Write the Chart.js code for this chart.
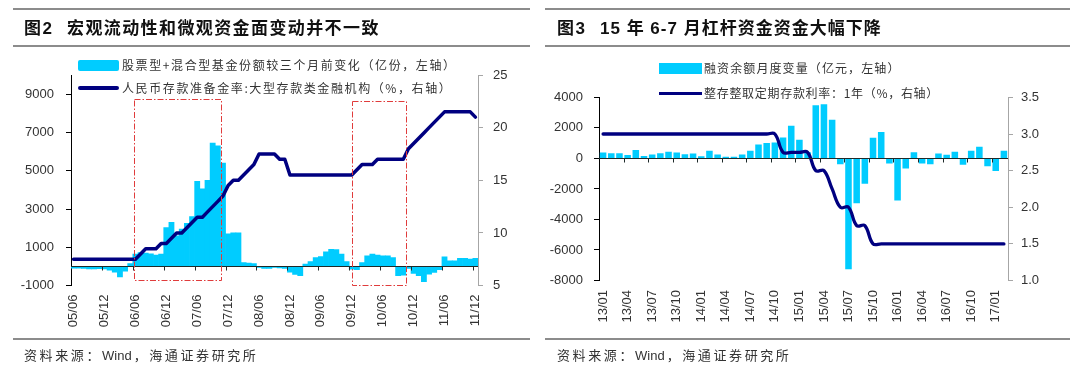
<!DOCTYPE html>
<html lang="zh-CN">
<head>
<meta charset="UTF-8">
<script src="https://cdn.jsdelivr.net/npm/chart.js"></script>
<title>图2 图3</title>
<style>
  body { margin: 0; background: #fff; }
  .page { position: relative; width: 1080px; height: 371px; overflow: hidden; color: #333;
          font-family: "Liberation Sans", "Noto Sans CJK SC", sans-serif; }
  canvas { position: absolute; top: 0; }
  .rule { position: absolute; height: 2px; background: #8c8c8c; }
  .title { position: absolute; top: 19px; line-height: 20px; font-size: 17px; font-weight: 700;
           color: #111; letter-spacing: 1.4px; white-space: nowrap; }
  .legend { position: absolute; line-height: 16px; font-size: 12px; white-space: nowrap;
            font-family: "Noto Sans CJK SC", sans-serif; }
  .swatch { position: absolute; }
  .source { position: absolute; top: 347px; line-height: 18px; font-size: 13px; letter-spacing: 2.6px;
            white-space: nowrap; }
  .source span { letter-spacing: 0; margin-right: 2px; }
</style>
</head>
<body>
<div class="page">
  <canvas id="fundChart" width="540" height="371" style="left:0"></canvas>
  <canvas id="marginChart" width="540" height="371" style="left:540px"></canvas>

  <!-- left panel frame -->
  <div class="rule" style="left:13px; width:517px; top:8px"></div>
  <div class="rule" style="left:13px; width:517px; top:45px"></div>
  <div class="rule" style="left:13px; width:517px; top:338px; height:1.5px"></div>
  <div class="title" style="left:24px">图2</div>
  <div class="title" style="left:67px">宏观流动性和微观资金面变动并不一致</div>
  <div class="swatch" style="left:78px; top:60px; width:41px; height:11px; background:#00ccff; border-radius:2px"></div>
  <div class="legend" style="left:122px; top:57px; letter-spacing:1.6px">股票型+混合型基金份额较三个月前变化（亿份，左轴）</div>
  <div class="swatch" style="left:78px; top:85.5px; width:41px; height:4px; background:#000080; border-radius:2px"></div>
  <div class="legend" style="left:122px; top:79.5px; letter-spacing:1.6px">人民币存款准备金率:大型存款类金融机构（%，右轴）</div>
  <div class="source" style="left:24px">资料来源：<span>Wind</span>，海通证券研究所</div>

  <!-- right panel frame -->
  <div class="rule" style="left:545px; width:525px; top:8px"></div>
  <div class="rule" style="left:545px; width:525px; top:45px"></div>
  <div class="rule" style="left:545px; width:525px; top:338px; height:1.5px"></div>
  <div class="title" style="left:557px">图3</div>
  <div class="title" style="left:600px; letter-spacing:1px">15 年 6-7 月杠杆资金资金大幅下降</div>
  <div class="swatch" style="left:659px; top:63px; width:43px; height:11px; background:#00ccff"></div>
  <div class="legend" style="left:704px; top:60px; letter-spacing:1.1px">融资余额月度变量（亿元，左轴）</div>
  <div class="swatch" style="left:659px; top:91.5px; width:43px; height:3px; background:#000080"></div>
  <div class="legend" style="left:704px; top:85px; letter-spacing:0.7px">整存整取定期存款利率：1年（%，右轴）</div>
  <div class="source" style="left:557px">资料来源：<span>Wind</span>，海通证券研究所</div>
</div>

<script>
// ---- 图2: monthly, 2005-06 .. 2011-12 ----
const fundMonths = [
  '05/06','05/07','05/08','05/09','05/10','05/11','05/12',
  '06/01','06/02','06/03','06/04','06/05','06/06','06/07','06/08','06/09','06/10','06/11','06/12',
  '07/01','07/02','07/03','07/04','07/05','07/06','07/07','07/08','07/09','07/10','07/11','07/12',
  '08/01','08/02','08/03','08/04','08/05','08/06','08/07','08/08','08/09','08/10','08/11','08/12',
  '09/01','09/02','09/03','09/04','09/05','09/06','09/07','09/08','09/09','09/10','09/11','09/12',
  '10/01','10/02','10/03','10/04','10/05','10/06','10/07','10/08','10/09','10/10','10/11','10/12',
  '11/01','11/02','11/03','11/04','11/05','11/06','11/07','11/08','11/09','11/10','11/11','11/12'
];
// 股票型+混合型基金份额较三个月前变化（亿份）
const fundShareChange = [
  -90, -90, -100, -130, -130, -110, -130, -200, -300, -550, -250, 150,
  640, 730, 700, 660, 600, 640, 2030, 2300, 1600, 1950, 2250, 2600,
  4450, 4050, 4500, 6450, 6300, 5400, 1700, 1750, 1750, 200, 170, 150,
  -50, -100, -100, -50, -80, -100, -300, -420, -480, 120, 260, 470,
  520, 760, 900, 880, 640, 260, -140, -170, 200, 550, 650, 600,
  550, 550, 470, -480, -450, -100, -360, -480, -800, -400, -310, -170,
  500, 290, 290, 430, 420, 380, 420
];
// 人民币存款准备金率: 大型存款类金融机构（%）
const reserveRatio = [
  7.5, 7.5, 7.5, 7.5, 7.5, 7.5, 7.5, 7.5, 7.5, 7.5, 7.5, 7.5,
  7.5, 8.0, 8.5, 8.5, 8.5, 9.0, 9.0, 9.5, 10.0, 10.0, 10.5, 11.0,
  11.5, 11.5, 12.0, 12.5, 13.0, 13.5, 14.5, 15.0, 15.0, 15.5, 16.0, 16.5,
  17.5, 17.5, 17.5, 17.5, 17.0, 17.0, 15.5, 15.5, 15.5, 15.5, 15.5, 15.5,
  15.5, 15.5, 15.5, 15.5, 15.5, 15.5, 15.5, 16.0, 16.5, 16.5, 16.5, 17.0,
  17.0, 17.0, 17.0, 17.0, 17.0, 18.0, 18.5, 19.0, 19.5, 20.0, 20.5, 21.0,
  21.5, 21.5, 21.5, 21.5, 21.5, 21.5, 21.0
];
const fundTicks = [-1000, 1000, 3000, 5000, 7000, 9000];
const reserveTicks = [5, 10, 15, 20, 25];
// red dashed frames, in category-edge units and left-axis values
const fundFrames = [
  { from: 12.3, to: 29.1, top: 8750, bottom: -750 },
  { from: 54.5, to: 65.1, top: 8650, bottom: -1000 }
];

// ---- 图3: monthly, 2013-01 .. 2017-02 ----
const marginMonths = [
  '13/01','13/02','13/03','13/04','13/05','13/06','13/07','13/08','13/09','13/10','13/11','13/12',
  '14/01','14/02','14/03','14/04','14/05','14/06','14/07','14/08','14/09','14/10','14/11','14/12',
  '15/01','15/02','15/03','15/04','15/05','15/06','15/07','15/08','15/09','15/10','15/11','15/12',
  '16/01','16/02','16/03','16/04','16/05','16/06','16/07','16/08','16/09','16/10','16/11','16/12',
  '17/01','17/02'
];
// 融资余额月度变量（亿元）
const marginChange = [
  390, 345, 345, 230, 550, 160, 250, 345, 440, 390, 280, 320,
  140, 500, 250, 115, 115, 250, 500, 920, 1010, 1040, 1380, 2150,
  1220, 400, 3490, 3550, 2540, -375, -7260, -2940, -1660, 1350, 1740, -330,
  -2760, -660, 400, -330, -375, 330, 240, 440, -420, 500, 770, -510,
  -820, 500
];
// 整存整取定期存款利率: 1年（%）
const depositRate = [
  3.0, 3.0, 3.0, 3.0, 3.0, 3.0, 3.0, 3.0, 3.0, 3.0, 3.0, 3.0,
  3.0, 3.0, 3.0, 3.0, 3.0, 3.0, 3.0, 3.0, 3.0, 3.0, 2.75, 2.75,
  2.75, 2.75, 2.5, 2.5, 2.25, 2.0, 2.0, 1.75, 1.75, 1.5, 1.5, 1.5,
  1.5, 1.5, 1.5, 1.5, 1.5, 1.5, 1.5, 1.5, 1.5, 1.5, 1.5, 1.5,
  1.5, 1.5
];
const marginTicks = [-8000, -6000, -4000, -2000, 0, 2000, 4000];
const rateTicks = [1.0, 1.5, 2.0, 2.5, 3.0, 3.5];

const CYAN = '#00ccff';
const NAVY = '#000080';

Chart.defaults.font.family = '"Liberation Sans", Arial, sans-serif';
Chart.defaults.font.size = 13;
Chart.defaults.color = '#333';

function setTicks(values) {
  return scale => { scale.ticks = values.map(v => ({ value: v })); };
}

// zero line with small category tick marks (axis crosses at 0)
const zeroLine = {
  id: 'zeroLine',
  afterDatasetsDraw(chart, args, opts) {
    const { ctx, chartArea, scales } = chart;
    const y0 = Math.round(scales.y.getPixelForValue(0)) + 0.5;
    ctx.save();
    ctx.strokeStyle = '#1e2a2a';
    ctx.lineWidth = 1;
    ctx.beginPath();
    ctx.moveTo(chartArea.left, y0);
    ctx.lineTo(chartArea.right, y0);
    const n = chart.data.labels.length;
    for (let i = opts.every; i < n; i += opts.every) {
      const x = Math.round(scales.x.getPixelForValue(i - 0.5)) + 0.5;
      ctx.moveTo(x, y0);
      ctx.lineTo(x, y0 + 4);
    }
    ctx.stroke();
    ctx.restore();
  }
};

// red dash-dot frames
const frames = {
  id: 'frames',
  afterDatasetsDraw(chart, args, opts) {
    if (!opts.list) return;
    const { ctx, scales } = chart;
    ctx.save();
    ctx.strokeStyle = '#e03c3c';
    ctx.lineWidth = 1;
    ctx.setLineDash([6, 2, 1.5, 2]);
    opts.list.forEach(f => {
      const x1 = Math.round(scales.x.getPixelForValue(f.from - 0.5)) + 0.5;
      const x2 = Math.round(scales.x.getPixelForValue(f.to - 0.5)) + 0.5;
      const y1 = Math.round(scales.y.getPixelForValue(f.top)) + 0.5;
      const y2 = Math.round(scales.y.getPixelForValue(f.bottom)) - 0.5;
      ctx.strokeRect(x1, y1, x2 - x1, y2 - y1);
    });
    ctx.restore();
  }
};

new Chart(document.getElementById('fundChart'), {
  type: 'bar',
  data: {
    labels: fundMonths,
    datasets: [
      {
        type: 'line', data: reserveRatio, yAxisID: 'y2', order: 0,
        borderColor: NAVY, borderWidth: 3.5, pointRadius: 0, tension: 0,
        borderJoinStyle: 'round', borderCapStyle: 'round'
      },
      {
        type: 'bar', data: fundShareChange, yAxisID: 'y', order: 1,
        backgroundColor: CYAN, borderWidth: 0,
        categoryPercentage: 1, barPercentage: 1
      }
    ]
  },
  options: {
    responsive: false, animation: false, devicePixelRatio: 1,
    layout: { padding: { top: 75, bottom: 35.4, left: 0, right: 0 } },
    plugins: {
      legend: { display: false }, tooltip: { enabled: false },
      zeroLine: { every: 6 },
      frames: { list: fundFrames }
    },
    scales: {
      x: {
        grid: { display: false, drawTicks: false },
        border: { display: false },
        ticks: {
          autoSkip: false, minRotation: 90, maxRotation: 90, padding: 9,
          callback: (v, i) => (i % 6 === 0 ? fundMonths[i] : '')
        },
        afterFit: s => { s.height = 50; }
      },
      y: {
        position: 'left', min: -1000, max: 10000,
        afterBuildTicks: setTicks(fundTicks),
        ticks: { padding: 12, callback: v => String(v) },
        grid: { drawOnChartArea: false, tickLength: 5, color: '#000' },
        border: { color: '#000', width: 1 },
        afterFit: s => { s.width = 71; }
      },
      y2: {
        position: 'right', min: 5, max: 25,
        afterBuildTicks: setTicks(reserveTicks),
        ticks: { padding: 10, callback: v => String(v) },
        grid: { drawOnChartArea: false, tickLength: 5, color: '#a6a6a6' },
        border: { color: '#a6a6a6', width: 1 },
        afterFit: s => { s.width = 62; }
      }
    }
  },
  plugins: [zeroLine, frames]
});

new Chart(document.getElementById('marginChart'), {
  type: 'bar',
  data: {
    labels: marginMonths,
    datasets: [
      {
        type: 'line', data: depositRate, yAxisID: 'y2', order: 0,
        borderColor: NAVY, borderWidth: 3.3, pointRadius: 0, tension: 0.4,
        borderJoinStyle: 'round', borderCapStyle: 'round'
      },
      {
        type: 'bar', data: marginChange, yAxisID: 'y', order: 1,
        backgroundColor: CYAN, borderWidth: 0,
        categoryPercentage: 1, barPercentage: 0.8
      }
    ]
  },
  options: {
    responsive: false, animation: false, devicePixelRatio: 1,
    layout: { padding: { top: 97.4, bottom: 40.5, left: 0, right: 0 } },
    plugins: {
      legend: { display: false }, tooltip: { enabled: false },
      zeroLine: { every: 3 },
      frames: {}
    },
    scales: {
      x: {
        grid: { display: false, drawTicks: false },
        border: { display: false },
        ticks: {
          autoSkip: false, minRotation: 90, maxRotation: 90, padding: 9.5,
          callback: (v, i) => (i % 3 === 0 ? marginMonths[i] : '')
        },
        afterFit: s => { s.height = 50; }
      },
      y: {
        position: 'left', min: -8000, max: 4000,
        afterBuildTicks: setTicks(marginTicks),
        ticks: { padding: 11, callback: v => String(v) },
        grid: { drawOnChartArea: false, tickLength: 5, color: '#000' },
        border: { color: '#000', width: 1 },
        afterFit: s => { s.width = 59; }
      },
      y2: {
        position: 'right', min: 1.0, max: 3.5,
        afterBuildTicks: setTicks(rateTicks),
        ticks: { padding: 8, callback: v => Number(v).toFixed(1) },
        grid: { drawOnChartArea: false, tickLength: 5, color: '#a6a6a6' },
        border: { color: '#a6a6a6', width: 1 },
        afterFit: s => { s.width = 72; }
      }
    }
  },
  plugins: [zeroLine, frames]
});
</script>
</body>
</html>
